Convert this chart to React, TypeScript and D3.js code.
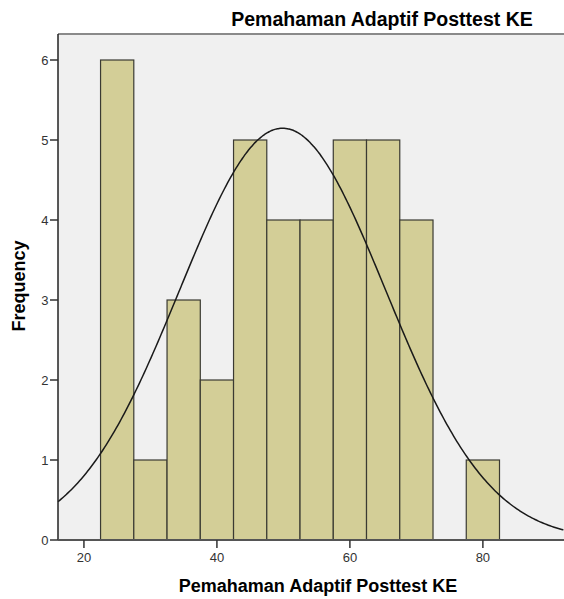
import * as d3 from "d3";

// histogram bins (lower edge, upper edge, count)
const binStarts = [22.5, 27.5, 32.5, 37.5, 42.5, 47.5, 52.5, 57.5, 62.5, 67.5, 72.5, 77.5];
const binWidth = 5;
const counts = [6, 1, 3, 2, 5, 4, 4, 5, 5, 4, 0, 1];
const xTicks = [20, 40, 60, 80];
const yTicks = [0, 1, 2, 3, 4, 5, 6];
// fitted normal curve stats
const meanVal = 49.88;
const stdDev = 15.5;
const nTotal = 40;

const W = 564;
const H = 599;
const left = 58;
const top = 34;
const right = 565;
const bottom = 540;

const font = "'Liberation Sans', Arial, sans-serif";

export default function App() {
    const x = d3.scaleLinear().domain([16.1, 92.2]).range([left, 564]);
    const y = d3.scaleLinear().domain([0, 6.325]).range([bottom, top]);

    const normal = (v: number) =>
        (nTotal * binWidth) / (stdDev * Math.sqrt(2 * Math.PI)) *
        Math.exp(-((v - meanVal) ** 2) / (2 * stdDev * stdDev));

    const curvePts = d3.range(16.1, 92.3, 0.25).map((v) => [v, normal(v)] as [number, number]);
    const line = d3.line<[number, number]>()
        .x((d) => x(d[0]))
        .y((d) => y(d[1]))
        .curve(d3.curveBasis);

    return (
        <svg width={W} height={H} style={{ position: "absolute", left: 0, top: 0 }}>
            <rect x={0} y={0} width={W} height={H} fill="#ffffff" />
            <rect x={left} y={top} width={right - left} height={bottom - top} fill="#f0f0f0" />
            {binStarts.map((b, i) =>
                counts[i] > 0 ? (
                    <rect
                        key={i}
                        x={x(b)}
                        y={y(counts[i])}
                        width={x(b + binWidth) - x(b)}
                        height={y(0) - y(counts[i])}
                        fill="#d3ce97"
                        stroke="#3a3a32"
                        strokeWidth={1.2}
                    />
                ) : null
            )}
            <path d={line(curvePts) || ""} fill="none" stroke="#1a1a1a" strokeWidth={1.5} />

            {/* frame */}
            <line x1={left} x2={right} y1={top} y2={top} stroke="#8a8a8a" strokeWidth={2} />
            <line x1={left} x2={left} y1={top} y2={bottom} stroke="#222" strokeWidth={1.5} />
            <line x1={left} x2={right} y1={bottom} y2={bottom} stroke="#555" strokeWidth={2} />

            {yTicks.map((t) => (
                <g key={t}>
                    <line x1={50} x2={left} y1={y(t)} y2={y(t)} stroke="#333" strokeWidth={1.5} />
                    <text x={48.5} y={y(t) + 4.5} textAnchor="end" fontSize={13} fontFamily={font} fill="#333">
                        {t}
                    </text>
                </g>
            ))}
            {xTicks.map((t) => (
                <g key={t}>
                    <line x1={x(t)} x2={x(t)} y1={bottom} y2={bottom + 8} stroke="#333" strokeWidth={1.5} />
                    <text x={x(t)} y={562} textAnchor="middle" fontSize={13} fontFamily={font} fill="#333">
                        {t}
                    </text>
                </g>
            ))}

            <text x={382} y={26} textAnchor="middle" fontSize={19.5} fontWeight="bold" fontFamily={font} fill="#000">
                Pemahaman Adaptif Posttest KE
            </text>
            <text x={318} y={592} textAnchor="middle" fontSize={18} fontWeight="bold" fontFamily={font} fill="#000">
                Pemahaman Adaptif Posttest KE
            </text>
            <text
                transform={`translate(25, 286) rotate(-90)`}
                textAnchor="middle"
                fontSize={18}
                fontWeight="bold"
                fontFamily={font}
                fill="#000"
            >
                Frequency
            </text>
        </svg>
    );
}
